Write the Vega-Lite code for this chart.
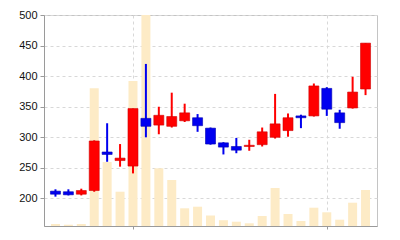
{
  "$schema": "https://vega.github.io/schema/vega-lite/v6.json",
  "autosize": {"type": "none"},
  "width": 333,
  "height": 211,
  "padding": {"left": 44, "top": 15, "right": 23, "bottom": 14},
  "background": "white",
  "config": {
    "view": {"stroke": "#c4c4c4", "strokeWidth": 1},
    "axis": {"labelFont": "Liberation Sans", "labelFontSize": 11, "labelColor": "#111", "domainColor": "#9a9a9a", "tickColor": "#9a9a9a", "gridColor": "#d8d8d8", "gridDash": [3, 3]}
  },
  "data": {
    "values": [
      {"i": 0, "open": 212, "close": 207, "high": 215, "low": 203, "volume": 200},
      {"i": 1, "open": 211, "close": 206, "high": 215, "low": 205, "volume": 130},
      {"i": 2, "open": 207, "close": 213, "high": 216, "low": 205, "volume": 200},
      {"i": 3, "open": 213, "close": 294, "high": 295, "low": 211, "volume": 13770},
      {"i": 4, "open": 276, "close": 272, "high": 323, "low": 260, "volume": 6400},
      {"i": 5, "open": 262, "close": 266, "high": 289, "low": 252, "volume": 3430},
      {"i": 6, "open": 253, "close": 347, "high": 347, "low": 241, "volume": 14500},
      {"i": 7, "open": 331, "close": 318, "high": 420, "low": 300, "volume": 21100},
      {"i": 8, "open": 320, "close": 336, "high": 350, "low": 305, "volume": 5770},
      {"i": 9, "open": 318, "close": 334, "high": 373, "low": 316, "volume": 4600},
      {"i": 10, "open": 327, "close": 340, "high": 355, "low": 325, "volume": 1770},
      {"i": 11, "open": 332, "close": 319, "high": 338, "low": 309, "volume": 1930},
      {"i": 12, "open": 315, "close": 289, "high": 316, "low": 288, "volume": 1050},
      {"i": 13, "open": 291, "close": 284, "high": 292, "low": 272, "volume": 580},
      {"i": 14, "open": 285, "close": 279, "high": 299, "low": 274, "volume": 430},
      {"i": 15, "open": 285, "close": 287, "high": 296, "low": 278, "volume": 270},
      {"i": 16, "open": 288, "close": 309, "high": 316, "low": 285, "volume": 1000},
      {"i": 17, "open": 300, "close": 322, "high": 371, "low": 298, "volume": 3800},
      {"i": 18, "open": 311, "close": 332, "high": 339, "low": 301, "volume": 1200},
      {"i": 19, "open": 335, "close": 332, "high": 337, "low": 315, "volume": 500},
      {"i": 20, "open": 335, "close": 384, "high": 388, "low": 334, "volume": 1830},
      {"i": 21, "open": 380, "close": 346, "high": 382, "low": 335, "volume": 1370},
      {"i": 22, "open": 340, "close": 324, "high": 345, "low": 314, "volume": 630},
      {"i": 23, "open": 348, "close": 374, "high": 399, "low": 347, "volume": 2330},
      {"i": 24, "open": 379, "close": 454, "high": 454, "low": 369, "volume": 3600}
    ]
  },
  "encoding": {
    "x": {
      "field": "i", "type": "quantitative",
      "scale": {"domain": [-0.5, 24.5], "nice": false, "zero": false},
      "axis": {"values": [6, 21], "labels": false, "title": null, "tickSize": 3, "grid": true}
    }
  },
  "layer": [
    {
      "mark": {"type": "bar", "width": 9, "color": "#FDEBC6"},
      "encoding": {
        "y": {"field": "volume", "type": "quantitative", "scale": {"domain": [0, 21100], "nice": false}, "axis": null}
      }
    },
    {
      "layer": [
        {
          "mark": {"type": "rule", "strokeWidth": 2},
          "encoding": {
            "y": {"field": "low", "type": "quantitative", "scale": {"domain": [155, 500], "nice": false, "zero": false},
              "axis": {"values": [200, 250, 300, 350, 400, 450, 500], "title": null, "tickSize": 4, "labelPadding": 3, "grid": true, "labelOverlap": false}},
            "y2": {"field": "high"},
            "color": {"condition": {"test": "datum.close > datum.open", "value": "#FF0000"}, "value": "#0000F0"}
          }
        },
        {
          "mark": {"type": "bar", "width": 10, "strokeWidth": 0.6},
          "encoding": {
            "y": {"field": "open", "type": "quantitative", "scale": {"domain": [155, 500], "nice": false, "zero": false},
              "axis": {"values": [200, 250, 300, 350, 400, 450, 500], "title": null, "tickSize": 4, "labelPadding": 3, "grid": true, "labelOverlap": false}},
            "y2": {"field": "close"},
            "color": {"condition": {"test": "datum.close > datum.open", "value": "#FF0000"}, "value": "#0000F0"},
            "stroke": {"condition": {"test": "datum.close > datum.open", "value": "#D00000"}, "value": "#0000B0"}
          }
        }
      ]
    }
  ],
  "resolve": {"scale": {"y": "independent"}}
}
